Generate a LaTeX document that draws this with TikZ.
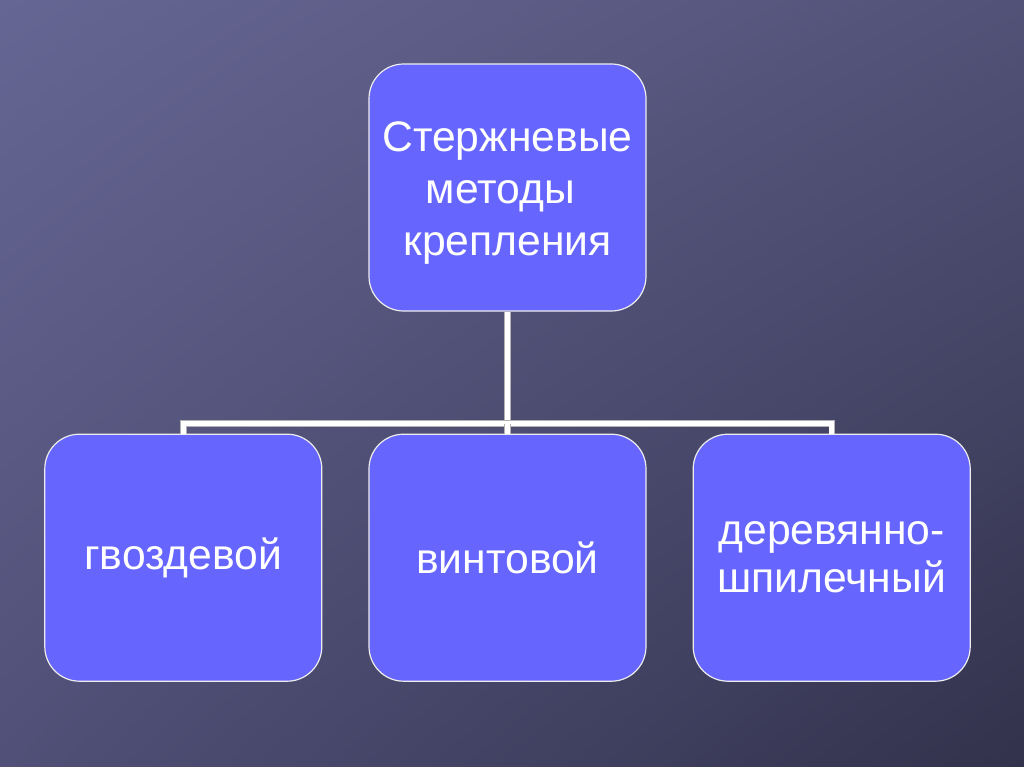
\documentclass[tikz,border=0pt]{standalone}
\usepackage{fontspec}
\setmainfont{Liberation Sans}
\usepackage{tikz}
\usetikzlibrary{positioning,shadings}

\definecolor{bgUL}{RGB}{102,102,148}
\definecolor{bgUR}{RGB}{82,82,120}
\definecolor{bgLL}{RGB}{80,80,120}
\definecolor{bgLR}{RGB}{50,50,76}
\definecolor{boxfill}{RGB}{102,102,255}

\begin{document}
\begin{tikzpicture}[
    x=0.75pt, y=-0.75pt,
    node distance=91.5pt and 34.5pt,
    box/.style={draw=white!85!gray, line width=0.9pt, fill=boxfill, rounded corners=26pt,
        minimum width=207.75pt, minimum height=185.25pt, inner sep=0pt,
        text width=200pt, align=center, text=white, font=\fontsize{32}{#1}\selectfont},
    box/.default=36,
    link/.style={draw=gray!60, line width=0.5pt, double=white, double distance=3.8pt},
]
    % background
    \shade[upper left=bgUL, upper right=bgUR, lower left=bgLL, lower right=bgLR]
        (0,0) rectangle (1024,767);
    \useasboundingbox (0,0) rectangle (1024,767);

    \node[box=39] (rodmethods) at (507.5,187.5) {\rule{0pt}{30pt}Стержневые\\методы\ \mbox{}\\крепления};
    \node[box, below=of rodmethods] (screw) {винтовой};
    \node[box, left=of screw] (nail) {гвоздевой};
    \node[box, right=of screw] (dowel) {деревянно-\\шпилечный};

    \draw[link] (rodmethods.south) -- ++(0,112) coordinate (fork);
    \draw[link] (fork) -| (nail.north);
    \draw[link] (fork) -| (dowel.north);
    \draw[link] (fork) -- (screw.north);
\end{tikzpicture}
\end{document}
